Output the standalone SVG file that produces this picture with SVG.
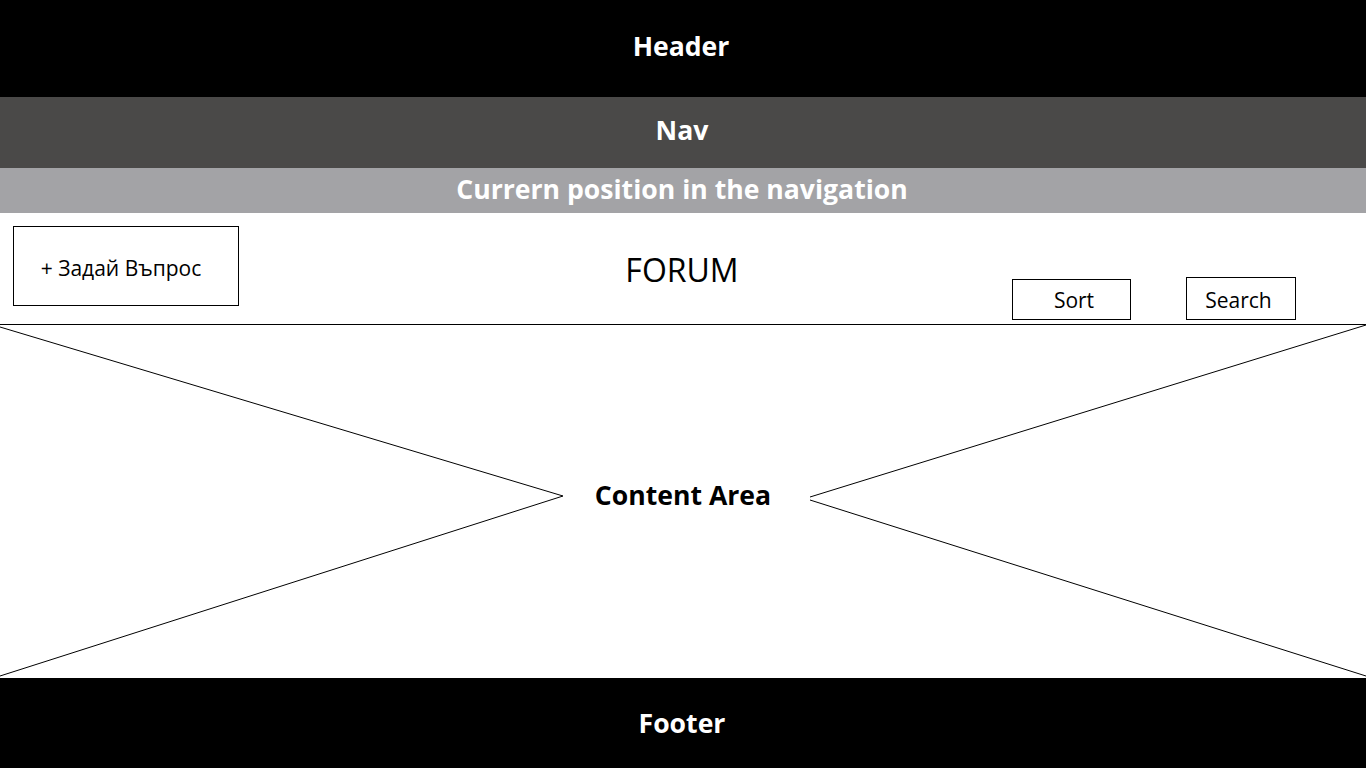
<svg xmlns="http://www.w3.org/2000/svg" width="1366" height="768" viewBox="0 0 1366 768">
<style>
.bar{font-family:"Open Sans","Liberation Sans",sans-serif;font-weight:bold;font-size:26.6px;fill:#fff;text-anchor:middle}
.lbl{font-family:"Open Sans","Liberation Sans",sans-serif;font-size:21px;fill:#000;text-anchor:middle}
.box{fill:#fff;stroke:#000;stroke-width:1}
.ln{stroke:#000;stroke-width:1;fill:none}
</style>
<rect width="1366" height="768" fill="#fff"/>
<g id="header"><rect x="0" y="0" width="1366" height="97" fill="#000"/><text class="bar" x="681" y="56">Header</text></g>
<g id="nav"><rect x="0" y="97" width="1366" height="71" fill="#4a4948"/><text class="bar" x="682" y="140">Nav</text></g>
<g id="breadcrumb"><rect x="0" y="168" width="1366" height="45" fill="#a3a3a6"/><text class="bar" x="682" y="199">Currern position in the navigation</text></g>
<g id="ask"><rect class="box" x="13.5" y="226.5" width="225" height="79"/><text class="lbl" x="121" y="276">+ Задай Въпрос</text></g>
<g id="forum"><text class="lbl" style="font-size:32px" x="682" y="282">FORUM</text></g>
<g id="sort"><rect class="box" x="1012.5" y="279.5" width="118" height="40"/><text class="lbl" x="1074" y="308">Sort</text></g>
<g id="search"><rect class="box" x="1186.5" y="277.5" width="109" height="42"/><text class="lbl" x="1238.5" y="308">Search</text></g>
<g id="content"><text class="bar" style="fill:#000" x="683" y="505">Content Area</text></g>
<g id="connectors">
<line class="ln" x1="0" y1="324.5" x2="1366" y2="324.5"/>
<line class="ln" x1="0" y1="327" x2="563" y2="496"/>
<line class="ln" x1="0" y1="676" x2="563" y2="496"/>
<line class="ln" x1="1366" y1="325" x2="810" y2="497"/>
<line class="ln" x1="810" y1="500" x2="1366" y2="676"/>
</g>
<g id="footer"><rect x="0" y="678" width="1366" height="90" fill="#000"/><text class="bar" x="682" y="733">Footer</text></g>
</svg>
